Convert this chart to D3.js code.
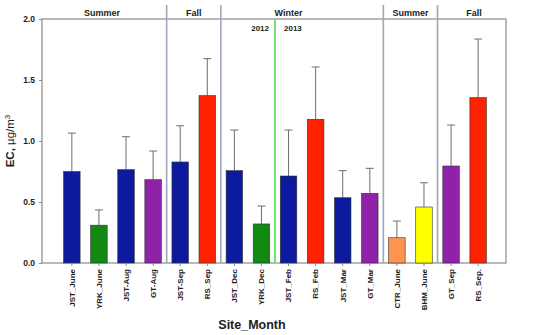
<!DOCTYPE html>
<html lang="en">
<head>
    <meta charset="UTF-8">
    <title>EC by Site_Month</title>
    <script src="https://d3js.org/d3.v7.min.js"></script>
    <style>
        body { margin: 0; background: #fff; }
        text { font-family: "Liberation Sans", Arial, sans-serif; font-weight: bold; fill: #222; }
    </style>
</head>
<body>
    <svg width="535" height="335"></svg>

    <script>
        // Data
        const sites = ["JST_June", "YRK_June", "JST-Aug", "GT-Aug", "JST-Sep", "RS_Sep", "JST_Dec", "YRK_Dec",
                       "JST_Feb", "RS_Feb", "JST_Mar", "GT_Mar", "CTR_June", "BHM_June", "GT_Sep", "RS_Sep."];
        const means = [0.75, 0.31, 0.765, 0.683, 0.828, 1.372, 0.757, 0.32,
                       0.713, 1.178, 0.535, 0.571, 0.207, 0.459, 0.795, 1.355];
        const upper = [1.065, 0.435, 1.035, 0.918, 1.125, 1.675, 1.09, 0.467,
                       1.09, 1.607, 0.757, 0.776, 0.344, 0.658, 1.131, 1.836];
        const barColors = ["#0c1a9e", "#128a12", "#0c1a9e", "#8f22a8", "#0c1a9e", "#ff2200", "#0c1a9e", "#128a12",
                           "#0c1a9e", "#ff2200", "#0c1a9e", "#8f22a8", "#ff9450", "#ffff00", "#8f22a8", "#ff2200"];
        const yTicks = [0, 0.5, 1.0, 1.5, 2.0];

        // season blocks: label, first site, last site
        const seasons = [
            ["Summer", "JST_June", "GT-Aug"],
            ["Fall", "JST-Sep", "RS_Sep"],
            ["Winter", "JST_Dec", "GT_Mar"],
            ["Summer", "CTR_June", "BHM_June"],
            ["Fall", "GT_Sep", "RS_Sep."]
        ];

        const svg = d3.select("svg");
        const mLeft = 42, mRight = 506, mTop = 19, mBottom = 263;

        const x = d3.scaleBand().domain(sites).range([mLeft + 1, mRight + 1]).paddingInner(0.39).paddingOuter(0.76);
        const y = d3.scaleLinear().domain([0, 2]).range([mBottom, mTop]);
        const bw = x.bandwidth();
        const step = x.step();
        const cx = s => x(s) + bw / 2;

        // frame
        svg.append("rect")
            .attr("x", mLeft).attr("y", mTop)
            .attr("width", mRight - mLeft).attr("height", mBottom - mTop)
            .attr("fill", "none").attr("stroke", "#8a8a8a").attr("stroke-width", 1.2);

        // season separators
        seasons.slice(1).forEach(d => {
            const sx = x(d[1]) - (step - bw) / 2;
            svg.append("line")
                .attr("x1", sx).attr("x2", sx)
                .attr("y1", 5).attr("y2", mBottom)
                .attr("stroke", "#a4a4bc").attr("stroke-width", 1.6);
        });

        // season labels
        seasons.forEach(d => {
            const x0 = x(d[1]) - (step - bw) / 2;
            const x1 = x(d[2]) + bw + (step - bw) / 2;
            let lx = d[0] === "Winter" ? cx("JST_Feb") : (x0 + x1) / 2;
            if (d[1] === "JST_June") lx = 102;
            if (d[1] === "GT_Sep") lx = 474;
            svg.append("text")
                .attr("x", lx).attr("y", 15.5)
                .attr("text-anchor", "middle")
                .attr("font-size", 9)
                .text(d[0]);
        });

        // year divider 2012 / 2013
        const gx = x("JST_Feb") - (step - bw) / 2;
        svg.append("line")
            .attr("x1", gx).attr("x2", gx)
            .attr("y1", mTop).attr("y2", mBottom)
            .attr("stroke", "#66e060").attr("stroke-width", 1.8);
        svg.append("text").attr("x", gx - 6).attr("y", 31).attr("text-anchor", "end")
            .attr("font-size", 8).text("2012");
        svg.append("text").attr("x", gx + 9).attr("y", 31).attr("text-anchor", "start")
            .attr("font-size", 8).text("2013");

        // error bars (upper only)
        const err = svg.append("g").attr("stroke", "#6e6e6e").attr("stroke-width", 1);
        sites.forEach((s, i) => {
            err.append("line").attr("x1", cx(s)).attr("x2", cx(s))
                .attr("y1", y(means[i])).attr("y2", y(upper[i]));
            err.append("line").attr("x1", cx(s) - 4).attr("x2", cx(s) + 4)
                .attr("y1", y(upper[i])).attr("y2", y(upper[i]));
        });

        // bars
        svg.append("g").selectAll("rect")
            .data(sites)
            .enter().append("rect")
            .attr("x", d => x(d))
            .attr("y", (d, i) => y(means[i]))
            .attr("width", bw)
            .attr("height", (d, i) => mBottom - y(means[i]))
            .attr("fill", (d, i) => barColors[i])
            .attr("stroke", "#333")
            .attr("stroke-width", 0.6);

        // y axis
        const yAxis = svg.append("g")
            .attr("transform", `translate(${mLeft},0)`)
            .call(d3.axisLeft(y).tickValues(yTicks).tickFormat(d3.format(".1f")).tickSize(3).tickPadding(4));
        yAxis.select(".domain").remove();
        yAxis.selectAll("line").attr("stroke", "#8a8a8a");
        yAxis.selectAll("text").attr("font-size", 8.5).attr("fill", "#222")
            .style("font-family", "Liberation Sans, Arial, sans-serif").style("font-weight", "bold");

        // x axis
        const xAxis = svg.append("g")
            .attr("transform", `translate(0,${mBottom})`)
            .call(d3.axisBottom(x).tickSize(3).tickPadding(4));
        xAxis.select(".domain").remove();
        xAxis.selectAll("line").attr("stroke", "#8a8a8a");
        xAxis.selectAll("text")
            .attr("font-size", 8).attr("fill", "#222")
            .style("font-family", "Liberation Sans, Arial, sans-serif").style("font-weight", "bold")
            .attr("transform", "rotate(-90)")
            .attr("text-anchor", "end")
            .attr("x", -6).attr("y", 0).attr("dy", "0.35em");

        // axis titles
        svg.append("text")
            .attr("x", 252).attr("y", 329)
            .attr("text-anchor", "middle")
            .attr("font-size", 12.5)
            .text("Site_Month");

        const yt = svg.append("text")
            .attr("transform", "translate(14,141) rotate(-90)")
            .attr("text-anchor", "middle")
            .attr("font-size", 11.5);
        yt.append("tspan").text("EC, ");
        yt.append("tspan").style("font-weight", "normal").text("\u00b5g/m");
        yt.append("tspan").attr("font-size", 8).attr("dy", -4).style("font-weight", "normal").text("3");
    </script>
</body>
</html>
